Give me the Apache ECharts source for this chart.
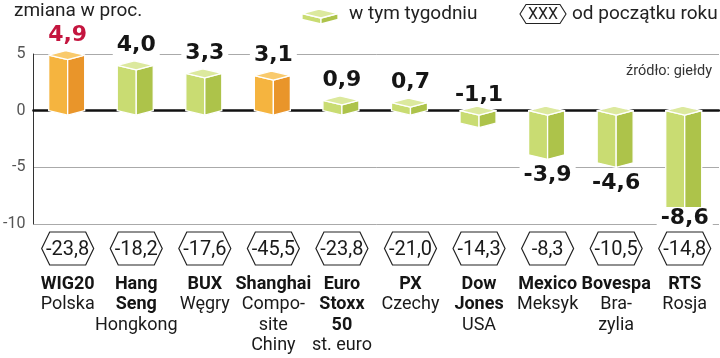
<!DOCTYPE html>
<html><head><meta charset="utf-8">
<script src="https://cdn.jsdelivr.net/npm/echarts/dist/echarts.min.js"></script>
<style>html,body{margin:0;padding:0;background:#fff}#c{width:720px;height:358px}</style>
</head><body><div id="c"></div>
<script>
// ---- data ----
const indexNames = ['WIG20', 'Hang\nSeng', 'BUX', 'Shanghai', 'Euro\nStoxx\n50', 'PX', 'Dow\nJones', 'Mexico', 'Bovespa', 'RTS'];
const countries = ['Polska', 'Hongkong', 'Węgry', 'Compo-\nsite\nChiny', 'st. euro', 'Czechy', 'USA', 'Meksyk', 'Bra-\nzylia', 'Rosja'];
const weekChange = [4.9, 4.0, 3.3, 3.1, 0.9, 0.7, -1.1, -3.9, -4.6, -8.6];
const ytdChange = [-23.8, -18.2, -17.6, -45.5, -23.8, -21.0, -14.3, -8.3, -10.5, -14.8];
const highlighted = ['WIG20', 'Shanghai'];
const yMin = -10, yMax = 5, yStep = 5;

// ---- chart ----
const catKeys = indexNames.map(s => s.replace(/\n/g, ' '));
const fmt = v => v.toFixed(1).replace('.', ',');
const chart = echarts.init(document.getElementById('c'));

const COL_G = { l: '#c9dc72', r: '#adc34a', t: '#dce99e' };
const COL_O = { l: '#f5b43f', r: '#e9952a', t: '#f9ca6c' };
const L = 19, R = 17, D = 4.5;

function cube(cx, top, bot, col) {
  const st = (c) => ({ fill: c, stroke: '#fff', lineWidth: 1.3, lineJoin: 'round' });
  return [
    { type: 'polygon', shape: { points: [[cx - L, top], [cx, top + D], [cx, bot + D], [cx - L, bot]] }, style: st(col.l) },
    { type: 'polygon', shape: { points: [[cx, top + D], [cx + R, top], [cx + R, bot], [cx, bot + D]] }, style: st(col.r) },
    { type: 'polygon', shape: { points: [[cx - L, top], [cx + R - L, top - D], [cx + R, top], [cx, top + D]] }, style: st(col.t) }
  ];
}
function hexagon(cx, cy, hw, iw, hh) {
  return [[cx - hw, cy], [cx - iw, cy - hh], [cx + iw, cy - hh], [cx + hw, cy], [cx + iw, cy + hh], [cx - iw, cy + hh]];
}

function renderItem(params, api) {
  const i = api.value(0), v = api.value(1), ytd = api.value(2);
  const p0 = api.coord([i, 0]), pv = api.coord([i, v]);
  const gb = api.coord([i, yMin])[1];
  const cx = p0[0], y0 = p0[1], yv = pv[1];
  const top = Math.min(y0, yv), bot = Math.max(y0, yv);
  const hl = highlighted.includes(catKeys[i]);
  const children = cube(cx, top, bot, hl ? COL_O : COL_G);
  let ly;
  if (v >= 0) ly = yv - 20;
  else if (v > -2) ly = y0 - 15;
  else ly = Math.min(yv + 20, gb - 6);
  children.push({
    type: 'text', z2: 10,
    style: {
      text: fmt(v), x: cx, y: ly, align: 'center', verticalAlign: 'middle',
      font: 'bold 22px "DejaVu Sans"', fill: i === 0 ? '#c4163f' : '#151515',
      backgroundColor: '#fff', padding: [0, 4]
    }
  });
  const hy = gb + 24.5;
  children.push({ type: 'polygon', shape: { points: hexagon(cx, hy, 26, 18, 16.5) }, style: { fill: '#fff', stroke: '#222', lineWidth: 1.2 } });
  children.push({
    type: 'text',
    style: { text: fmt(ytd), x: cx, y: hy + 1, align: 'center', verticalAlign: 'middle', font: '20px Roboto', fill: '#1a1a1a' }
  });
  return { type: 'group', children };
}

const legendCube = cube(321, 13.5, 19.5, COL_G);

chart.setOption({
  animation: false,
  textStyle: { fontFamily: 'Roboto' },
  grid: { left: 31, right: 1, top: 54, bottom: 134 },
  xAxis: [
    {
      type: 'category', data: catKeys, position: 'bottom',
      axisLine: { show: false, onZero: false }, axisTick: { show: false },
      axisLabel: {
        margin: 50, interval: 0,
        formatter: (val, idx) => {
          const b = indexNames[idx].split('\n').map(s => '{b|' + s + '}');
          const r = countries[idx].split('\n').map(s => '{r|' + s + '}');
          return b.concat(r).join('\n');
        },
        rich: {
          b: { fontFamily: 'Roboto', fontWeight: 'bold', fontSize: 18, lineHeight: 20.5, color: '#151515' },
          r: { fontFamily: 'Roboto', fontSize: 18, lineHeight: 20.5, color: '#1a1a1a' }
        }
      }
    },
    {
      type: 'category', data: catKeys, position: 'top',
      axisLine: { show: true, onZero: true, lineStyle: { color: '#111', width: 2.5 } },
      axisTick: { show: false }, axisLabel: { show: false }
    }
  ],
  yAxis: {
    type: 'value', min: yMin, max: yMax, interval: yStep,
    axisLine: { show: true, lineStyle: { color: '#333', width: 1 } },
    axisTick: { show: false },
    axisLabel: { color: '#555', fontSize: 16, margin: 8, fontFamily: 'Roboto' },
    splitLine: { show: true, lineStyle: { color: '#aaa', width: 1 } }
  },
  series: [{
    type: 'custom', xAxisIndex: 0, clip: false,
    renderItem,
    data: weekChange.map((v, i) => [i, v, ytdChange[i]])
  }],
  graphic: [
    { type: 'text', x: 14, y: 11, style: { text: 'zmiana w proc.', font: '19px Roboto', fill: '#222', verticalAlign: 'middle' } },
    ...legendCube,
    { type: 'text', x: 349, y: 14, style: { text: 'w tym tygodniu', font: '19px Roboto', fill: '#222', verticalAlign: 'middle' } },
    { type: 'polygon', shape: { points: hexagon(543, 14, 23, 17, 9.5) }, style: { fill: '#fff', stroke: '#222', lineWidth: 1.1 } },
    { type: 'text', x: 543, y: 14.5, style: { text: 'XXX', font: '16px Roboto', fill: '#222', align: 'center', verticalAlign: 'middle' } },
    { type: 'text', x: 572, y: 14, style: { text: 'od początku roku', font: '19px Roboto', fill: '#222', verticalAlign: 'middle' } },
    { type: 'text', x: 712, y: 71, style: { text: 'źródło: giełdy', font: '14.5px Roboto', fill: '#333', align: 'right', verticalAlign: 'middle' } }
  ]
});
</script>
</body></html>
